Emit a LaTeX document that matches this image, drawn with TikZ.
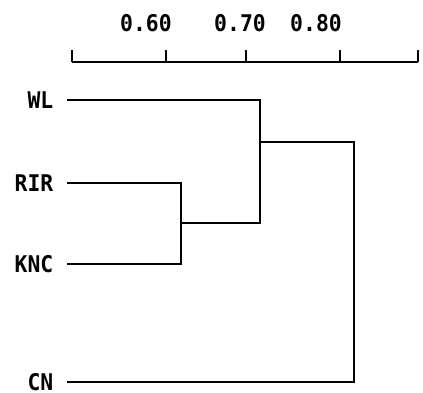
\documentclass[tikz,border=0pt]{standalone}
\usepackage{fontspec}
\setmainfont{DejaVu Sans Mono}[FakeStretch=0.93]
\begin{document}
\begin{tikzpicture}[x=1pt, y=-1pt, font=\fontsize{23}{23}\selectfont\bfseries, line width=1.4pt,
  leaf/.style={anchor=east, inner xsep=13pt, inner ysep=0pt},
  ticklabel/.style={inner sep=0pt}]
\useasboundingbox (0,0) rectangle (423,393);
% scale
\coordinate (S0) at (72,62); \coordinate (S1) at (418,62); \draw (S0) -- (S1);
\foreach \x in {72,166,246,340,418} \draw (\x,62) -- (\x,50);
\node[ticklabel] (t60) at (146,23) {0.60}; \node[ticklabel] (t70) at (240,23) {0.70}; \node[ticklabel] (t80) at (316,23) {0.80};
% leaves
\node[leaf] (WL) at (67,100) {WL}; \node[leaf] (RIR) at (67,183) {RIR};
\node[leaf] (KNC) at (67,264) {KNC}; \node[leaf] (CN) at (67,382) {CN};
% joins
\coordinate (J1) at (181,223); \coordinate (J2) at (260,142); \coordinate (J3) at (354,382);
\draw (RIR.east) -| (J1) |- (KNC.east);
\draw (WL.east) -| (J2) |- (J1);
\draw (J2) -| (J3) |- (CN.east);
\end{tikzpicture}
\end{document}
